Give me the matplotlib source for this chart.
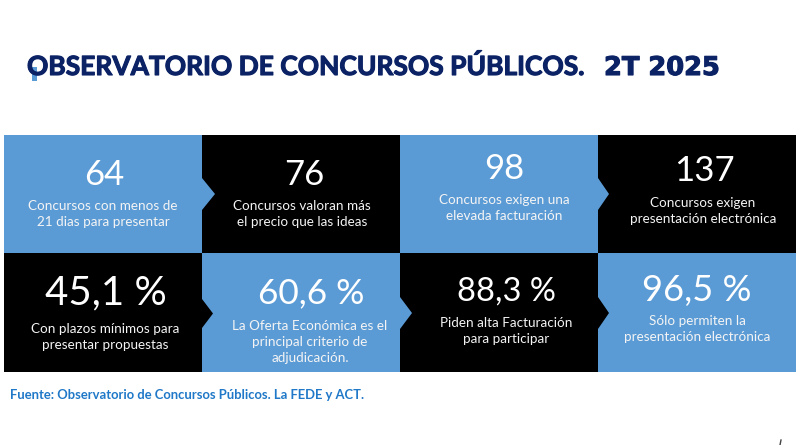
import matplotlib
matplotlib.use("Agg")
import matplotlib.pyplot as plt
import matplotlib.patheffects as pe
from matplotlib.patches import Polygon, Rectangle

title_main = "OBSERVATORIO DE CONCURSOS PÚBLICOS."
title_period = "2T 2025"
source_text = "Fuente: Observatorio de Concursos Públicos. La FEDE y ACT."

top_numbers = ["64", "76", "98", "137"]
top_captions = ["Concursos con menos de\n21 dias para presentar",
                "Concursos valoran más\nel precio que las ideas",
                "Concursos exigen una\nelevada facturación",
                "Concursos exigen\npresentación electrónica"]
bottom_numbers = ["45,1 %", "60,6 %", "88,3 %", "96,5 %"]
bottom_captions = ["Con plazos mínimos para\npresentar propuestas",
                   "La Oferta Económica es el\nprincipal criterio de\nadjudicación.",
                   "Piden alta Facturación\npara participar",
                   "Sólo permiten la\npresentación electrónica"]

BLUE = "#5b9bd5"
NAVY = "#0b2265"
plt.rcParams["font.family"] = ["Lato", "DejaVu Sans"]

# everything is laid out in reference pixels
fig = plt.figure(figsize=(8, 4.45), dpi=100)
ax = fig.add_axes([0, 0, 1, 1])
ax.set_xlim(0, 800)
ax.set_ylim(445, 0)
ax.axis("off")

col_edges = [4, 202, 400, 598, 796]
rows = [(135, 253), (253, 372)]

top_colors = [BLUE, "black", BLUE, "black"]
bottom_colors = ["black", BLUE, "black", BLUE]

for i in range(4):
    x0, x1 = col_edges[i], col_edges[i + 1]
    ax.add_patch(Rectangle((x0, rows[0][0]), x1 - x0, rows[0][1] - rows[0][0], color=top_colors[i], lw=0))
    ax.add_patch(Rectangle((x0, rows[1][0]), x1 - x0, rows[1][1] - rows[1][0], color=bottom_colors[i], lw=0))

# arrow notches: base x, tip x, top y, bottom y, colour
arrows = [(202, 215, 178, 210, BLUE), (598, 609, 178, 210, BLUE),
          (202, 213, 299, 328, "black"), (400, 412, 297, 329, BLUE),
          (598, 609, 297, 329, "black")]
for bx, tx, y0, y1, c in arrows:
    ax.add_patch(Polygon([(bx, y0), (tx, (y0 + y1) / 2), (bx, y1)], color=c, lw=0, zorder=3))

top_num_x = [104, 304, 504, 704]
top_num_y = [175, 175, 169, 171]
top_cap_x = [103, 302, 504, 703]
top_cap_y = [214, 214, 208, 211]
bottom_num_x = [106, 311, 506, 697]
bottom_num_y = [293, 293, 292, 291]
bottom_cap_x = [105, 310, 506, 697]
bottom_cap_y = [337, 342, 331, 329]
bottom_num_size = [29, 25.5, 23.5, 26]

for i in range(4):
    ax.text(top_num_x[i], top_num_y[i], top_numbers[i], color="white", fontsize=25,
            ha="center", va="center", zorder=4)
    ax.text(top_cap_x[i], top_cap_y[i], top_captions[i], color="#f4f4f4", fontsize=9.7,
            ha="center", va="center", linespacing=1.45, zorder=4)
    ax.text(bottom_num_x[i], bottom_num_y[i], bottom_numbers[i], color="white", fontsize=bottom_num_size[i],
            ha="center", va="center", zorder=4)
    ax.text(bottom_cap_x[i], bottom_cap_y[i], bottom_captions[i], color="#f4f4f4", fontsize=9.7,
            ha="center", va="center", linespacing=1.45, zorder=4)

# light blue tail on the O of the title
ax.add_patch(Rectangle((32, 67), 5, 14, color=BLUE, lw=0, zorder=1))
heavy = [pe.withStroke(linewidth=0.8, foreground=NAVY)]
ax.text(27, 75, title_main, color=NAVY, fontsize=19, fontweight="bold",
        ha="left", va="baseline", zorder=2, path_effects=heavy)
ax.text(604, 75, title_period, color=NAVY, fontsize=18.5, fontweight="bold", family="DejaVu Sans",
        ha="left", va="baseline", zorder=2, path_effects=heavy)
ax.text(10, 395, source_text, color="#1f78c8", fontsize=9.4, fontweight="bold",
        ha="left", va="center")

# cut off page number in the corner
ax.plot([781, 780], [440, 445], color="#444444", lw=1)

fig.savefig("out.png", dpi=100)
